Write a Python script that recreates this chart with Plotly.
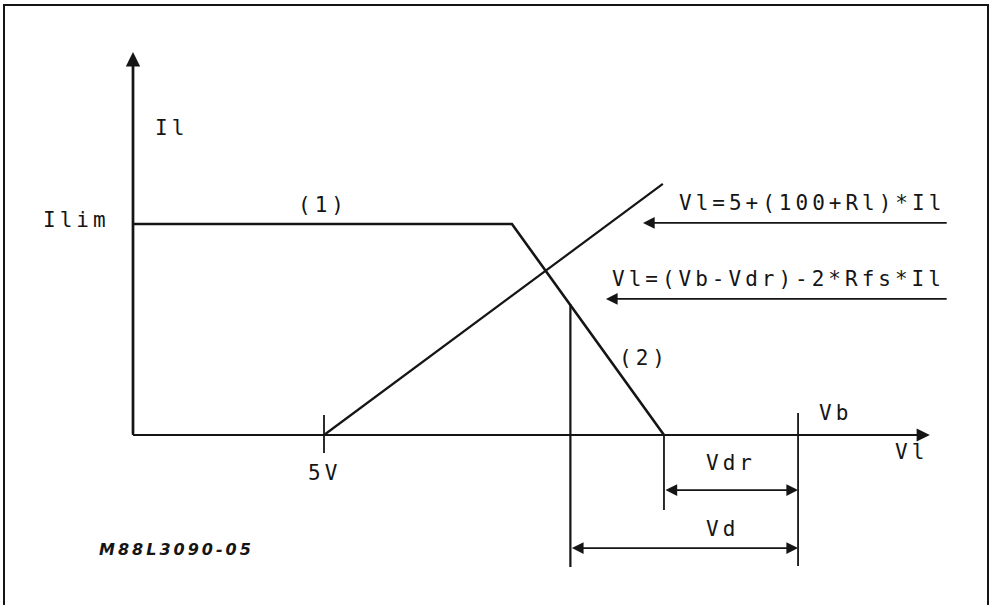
#######################################################################################################################
# Current limiting characteristic (Il vs Vl) - schematic diagram
#######################################################################################################################
import plotly.graph_objects as go

#######################################################################################################################
# Data
#######################################################################################################################
# limiting characteristic (1) constant current, (2) foldback down to Vb-Vdr
limit_v = [0, 9.92, 13.9]
limit_i = [1.0, 1.0, 0.0]

# load line Vl = 5 + (100+Rl)*Il
load_v = [5.0, 13.87]
load_i = [0.0, 1.19]

# characteristic voltages
v_5 = 5.0
v_op = 11.45
v_dr = 13.9
v_b = 17.41
i_op = 0.62

# axis extents
v_max = 20.86
i_max = 1.815

# dimension lines
dim_vdr_i = -0.261
dim_vd_i = -0.536

# equation pointers (tail, tip, level)
eq_tail = 21.34
eq1_tip, eq1_i = 13.35, 1.005
eq2_tip, eq2_i = 12.38, 0.645

# labels
labels = ["Il", "(1)", "(2)", "5V", "Vb", "Vl", "Vdr", "Vd"]
label_v = [1.0, 4.97, 13.38, 5.0, 18.38, 20.37, 15.65, 15.42]
label_i = [1.455, 1.09, 0.365, -0.18, 0.104, -0.08, -0.133, -0.445]
eq_texts = ["Vl=5+(100+Rl)*Il", "Vl=(Vb-Vdr)-2*Rfs*Il"]
eq_i = [1.10, 0.739]

#######################################################################################################################
# Plot
#######################################################################################################################
INK = "#151515"
FONT = dict(family="DejaVu Sans Mono", size=21, color=INK)


def spaced(txt, ls=4):
    return '<span style="letter-spacing:' + str(ls) + 'px">' + txt + '</span>'


fig = go.Figure()

# ------------------------------------------
# Curves
# ------------------------------------------
fig.add_trace(go.Scatter(x=limit_v, y=limit_i, mode='lines', line=dict(color=INK, width=2.6)))
fig.add_trace(go.Scatter(x=load_v, y=load_i, mode='lines', line=dict(color=INK, width=2.2)))

# ------------------------------------------
# Axes, ticks and extension lines
# ------------------------------------------
seg = [
    ([0, 0], [0, i_max - 0.05], 2.4),
    ([0, v_max - 0.3], [0, 0], 2.2),
    ([v_5, v_5], [0.095, -0.085], 1.8),
    ([v_op, v_op], [i_op, -0.626], 2.2),
    ([v_dr, v_dr], [0, -0.355], 1.8),
    ([v_b, v_b], [0.104, -0.621], 1.8),
]
for xs, ys, w in seg:
    fig.add_trace(go.Scatter(x=xs, y=ys, mode='lines', line=dict(color=INK, width=w)))

# ------------------------------------------
# Arrows
# ------------------------------------------
def arrow(x, y, ax, ay, w=1.8, side='end', size=1.3):
    fig.add_annotation(x=x, y=y, ax=ax, ay=ay, xref='x', yref='y', axref='x', ayref='y', text='',
                       showarrow=True, arrowhead=2, arrowsize=size, arrowwidth=w, arrowcolor=INK,
                       arrowside=side, standoff=0, startstandoff=0)


arrow(0, i_max, 0, 0, w=2.4, size=1.2)
arrow(v_max, 0, 0, 0, w=2.2, size=1.2)
arrow(eq1_tip, eq1_i, eq_tail, eq1_i)
arrow(eq2_tip, eq2_i, eq_tail, eq2_i)
arrow(v_b, dim_vdr_i, v_dr, dim_vdr_i, side='end+start')
arrow(v_b, dim_vd_i, v_op, dim_vd_i, side='end+start')

# ------------------------------------------
# Text
# ------------------------------------------
for t, xv, yv in zip(labels, label_v, label_i):
    fig.add_annotation(x=xv, y=yv, text=spaced(t), showarrow=False, font=FONT, xanchor='center', yanchor='middle')

fig.add_annotation(x=-0.55, y=1.02, text=spaced("Ilim"), showarrow=False, font=FONT, xanchor='right', yanchor='middle')
for t, yv in zip(eq_texts, eq_i):
    fig.add_annotation(x=21.3, y=yv, text=spaced(t), showarrow=False, font=FONT, xanchor='right', yanchor='middle')

fig.add_annotation(x=-0.94, y=-0.545, text='<i><b>' + spaced('M88L3090-05', 3) + '</b></i>', showarrow=False,
                   font=dict(family="DejaVu Sans", size=16, color=INK), xanchor='left', yanchor='middle')

# ------------------------------------------
# Frame
# ------------------------------------------
fig.add_shape(type='rect', xref='paper', yref='paper', x0=4 / 990, x1=988 / 990, y0=-0.1, y1=1 - 5 / 605,
              line=dict(color=INK, width=2))

# ==============================================================================
# Layout
# ==============================================================================
fig.update_xaxes(range=[-133 / 38.2, (990 - 133) / 38.2], visible=False)
fig.update_yaxes(range=[(435 - 605) / 211, 435 / 211], visible=False)
fig.update_layout(width=990, height=605, margin=dict(l=0, r=0, t=0, b=0), showlegend=False,
                  paper_bgcolor='white', plot_bgcolor='white')

fig.write_html("out.html", config={'displayModeBar': False}, post_script="document.body.style.margin='0';")
